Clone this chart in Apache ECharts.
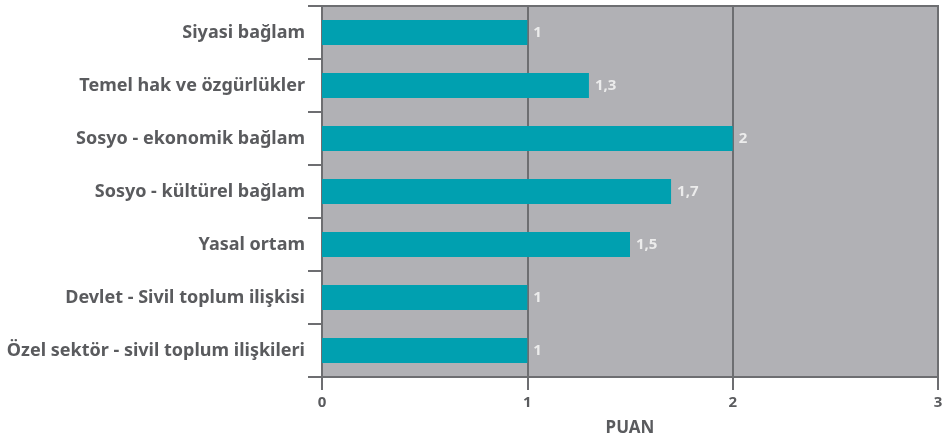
<!DOCTYPE html>
<html>
<head>
<meta charset="utf-8">
<script src="https://cdn.jsdelivr.net/npm/echarts@6/dist/echarts.min.js"></script>
<style>
    html, body { margin: 0; padding: 0; background: #ffffff; }
    #main { width: 946px; height: 442px; }
</style>
</head>
<body>
<div id="main"></div>
<script>
var categories = [
    'Siyasi bağlam',
    'Temel hak ve özgürlükler',
    'Sosyo - ekonomik bağlam',
    'Sosyo - kültürel bağlam',
    'Yasal ortam',
    'Devlet - Sivil toplum ilişkisi',
    'Özel sektör - sivil toplum ilişkileri'
];
var puan = [1, 1.3, 2, 1.7, 1.5, 1, 1];
var xTicks = [0, 1, 2, 3];

var lineColor = '#6d6e71';
var textColor = '#5a5b5e';

var myChart = echarts.init(document.getElementById('main'));

var option = {
    backgroundColor: '#ffffff',
    grid: {
        left: 322,
        right: 8,
        top: 6,
        bottom: 64,
        show: true,
        backgroundColor: '#b1b1b5',
        borderColor: lineColor,
        borderWidth: 2
    },
    xAxis: {
        type: 'value',
        min: xTicks[0],
        max: xTicks[xTicks.length - 1],
        interval: 1,
        name: 'PUAN',
        nameLocation: 'middle',
        nameGap: 43,
        nameTextStyle: {
            color: textColor,
            fontFamily: 'Noto Sans',
            fontWeight: 'bold',
            fontSize: 17
        },
        axisLine: { show: true, lineStyle: { color: lineColor, width: 2 } },
        axisTick: { show: true, length: 13, lineStyle: { color: lineColor, width: 2 } },
        axisLabel: {
            color: textColor,
            fontFamily: 'Noto Sans',
            fontWeight: 'bold',
            fontSize: 15,
            margin: 18
        },
        splitLine: { show: true, lineStyle: { color: lineColor, width: 2 } }
    },
    yAxis: {
        type: 'category',
        data: categories,
        inverse: true,
        axisLine: { show: true, lineStyle: { color: lineColor, width: 2 } },
        axisTick: { show: true, length: 14, lineStyle: { color: lineColor, width: 2 } },
        axisLabel: {
            color: textColor,
            fontFamily: 'Noto Sans',
            fontWeight: 'bold',
            fontSize: 18,
            margin: 17
        },
        splitLine: { show: false }
    },
    series: [{
        type: 'bar',
        data: puan,
        barWidth: 25,
        itemStyle: { color: '#00a0b0' },
        label: {
            show: true,
            position: 'right',
            distance: 6,
            color: '#ececec',
            fontFamily: 'Noto Sans',
            fontWeight: 'bold',
            fontSize: 15,
            formatter: function (p) {
                return String(p.value).replace('.', ',');
            }
        },
        silent: true
    }],
    animation: false
};

myChart.setOption(option);
</script>
</body>
</html>
